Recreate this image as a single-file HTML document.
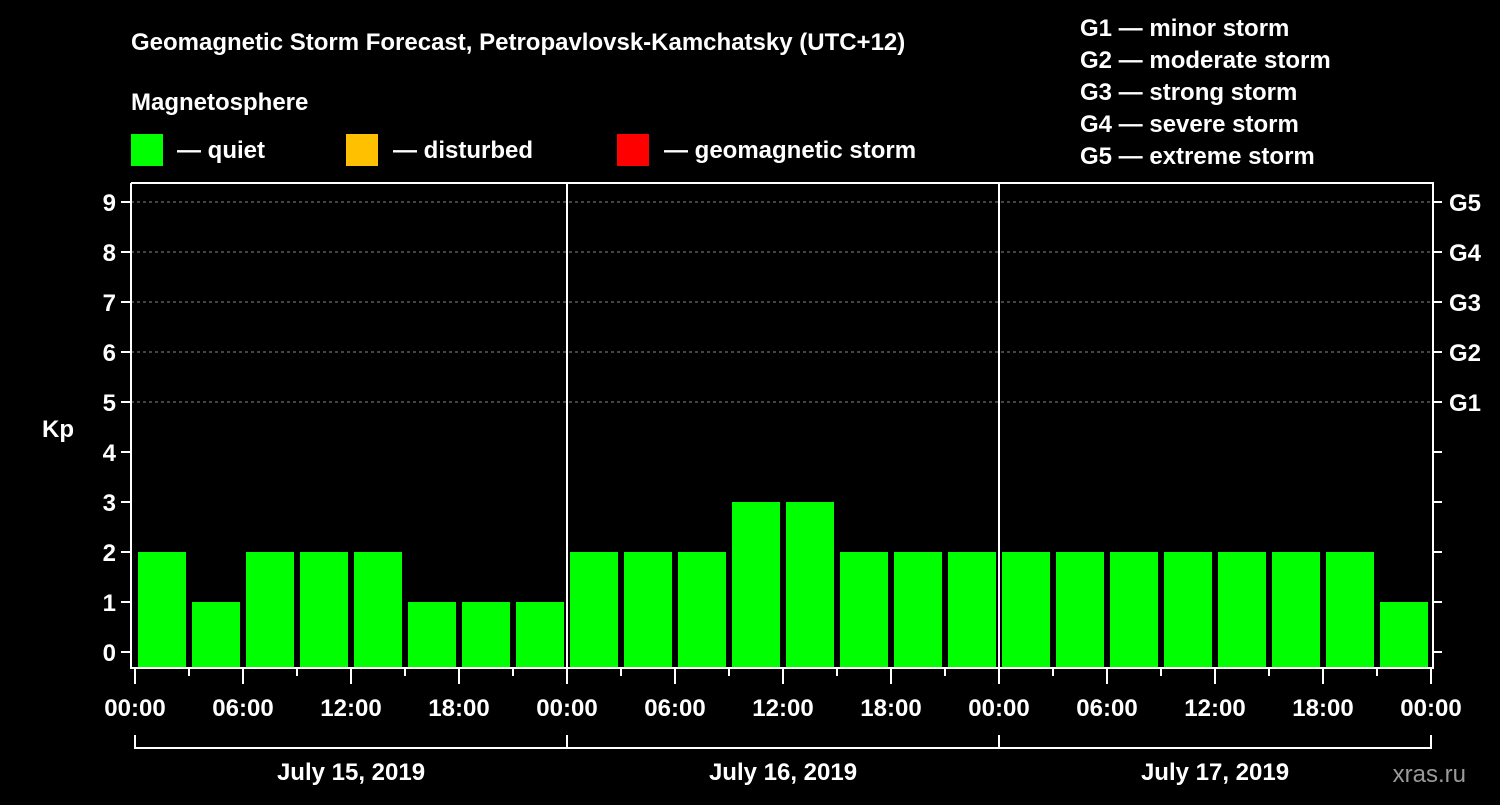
<!DOCTYPE html>
<html><head><meta charset="utf-8"><style>
body{margin:0;background:#000;width:1500px;height:800px;overflow:hidden}
svg text{font-family:"Liberation Sans",sans-serif;font-weight:bold;fill:#fff}
</style></head><body>
<svg id="c" width="1500" height="800">
<text x="131" y="50" font-size="24">Geomagnetic Storm Forecast, Petropavlovsk-Kamchatsky (UTC+12)</text>
<text x="131" y="110" font-size="24">Magnetosphere</text>
<g>
<rect x="131" y="134" width="32" height="32" fill="#00ff00"/>
<text x="177" y="158" font-size="24">— quiet</text>
<rect x="346" y="134" width="32" height="32" fill="#ffc000"/>
<text x="393" y="158" font-size="24">— disturbed</text>
<rect x="617" y="134" width="32" height="32" fill="#ff0000"/>
<text x="664" y="158" font-size="24">— geomagnetic storm</text>
</g>
<g font-size="24">
<text x="1080" y="36">G1 — minor storm</text>
<text x="1080" y="68">G2 — moderate storm</text>
<text x="1080" y="100">G3 — strong storm</text>
<text x="1080" y="132">G4 — severe storm</text>
<text x="1080" y="164">G5 — extreme storm</text>
</g>
<g id="grid"></g><g id="bars"></g><g id="axes"></g>
<text x="42" y="437" font-size="24">Kp</text>
<text x="1466" y="782" font-size="24" fill="#aaa" style="fill:#9a9a9a;font-weight:normal" text-anchor="end">xras.ru</text>
</svg>
<script>
const kpValues=[2,1,2,2,2,1,1,1, 2,2,2,3,3,2,2,2, 2,2,2,2,2,2,2,1];
const days=["July 15, 2019","July 16, 2019","July 17, 2019"];
const timeLabels=["00:00","06:00","12:00","18:00"];
const gLabels=["G1","G2","G3","G4","G5"];
const yTicks=[0,1,2,3,4,5,6,7,8,9];
const NS="http://www.w3.org/2000/svg";
const X0=135,SLOT=54,Y0=652,UNIT=50,BOT=668,TOP=183,RIGHT=1433;
const x=i=>X0+i*SLOT, y=v=>Y0-v*UNIT;
function mk(tag,attrs,parent,txt){const e=document.createElementNS(NS,tag);for(const k in attrs)e.setAttribute(k,attrs[k]);if(txt!==undefined)e.textContent=txt;document.getElementById(parent).appendChild(e);return e;}
yTicks.forEach(v=>{if(v>=5){const l=mk('line',{x1:131,x2:RIGHT,y1:y(v),y2:y(v),stroke:'#888','stroke-dasharray':'3,3','stroke-width':1},'grid');

}});
kpValues.forEach((v,i)=>{const col=v>=5?'#ff0000':(v>=4?'#ffc000':'#00ff00');
const r=mk('rect',{x:x(i)+3,y:y(v),width:SLOT-6,height:BOT-1-y(v),fill:col},'bars');

});
for(let d=1;d<days.length;d++){const l=mk('line',{x1:x(d*8),x2:x(d*8),y1:TOP,y2:BOT,stroke:'#fff','stroke-width':2},'axes');

}
const fr=mk('path',{d:`M131 ${TOP} V${BOT} H${RIGHT} V${TOP} H131`,fill:'none',stroke:'#fff','stroke-width':2},'axes');


yTicks.forEach(v=>{mk('line',{x1:121,x2:131,y1:y(v),y2:y(v),stroke:'#fff','stroke-width':2},'axes');
mk('line',{x1:RIGHT,x2:1442,y1:y(v),y2:y(v),stroke:'#fff','stroke-width':2},'axes');
const t=mk('text',{x:116,y:y(v)+9,'font-size':24,'text-anchor':'end'},'axes',v);

});
gLabels.forEach((g,i)=>{const t=mk('text',{x:1449,y:y(5+i)+9,'font-size':24},'axes',g);

});
for(let i=0;i<=kpValues.length;i++){const major=i%2===0;
mk('line',{x1:x(i),x2:x(i),y1:BOT,y2:BOT+(major?16:8),stroke:'#fff','stroke-width':2},'axes');
if(major){const t=mk('text',{x:x(i),y:716,'font-size':24,'text-anchor':'middle'},'axes',timeLabels[(i/2)%4]);

}}
days.forEach((d,k)=>{const a=x(k*8),b=x(k*8+8);
mk('path',{d:`M${a} 735 V748 H${b} V735`,fill:'none',stroke:'#fff','stroke-width':2},'axes');
const t=mk('text',{x:(a+b)/2,y:780,'font-size':24,'text-anchor':'middle'},'axes',d);

});
</script>
</body></html>
